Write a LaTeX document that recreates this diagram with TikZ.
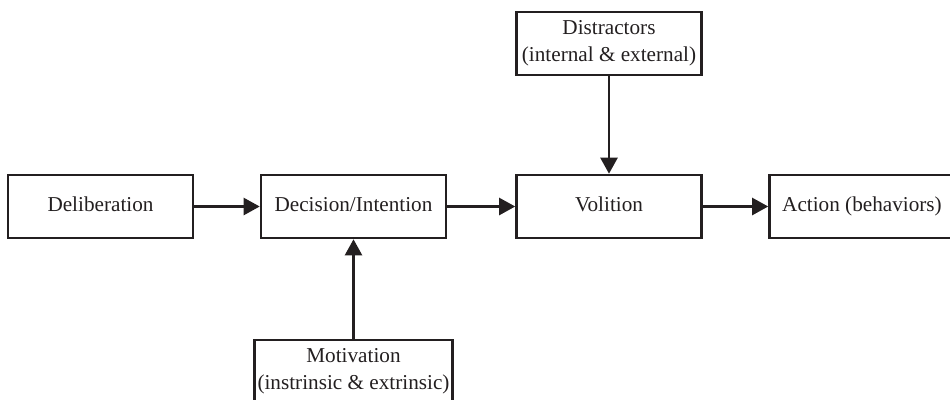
\documentclass[tikz,border=0pt]{standalone}
\usepackage{fontspec}
\setmainfont{Liberation Serif}
\usetikzlibrary{arrows.meta}
\definecolor{ink}{RGB}{35,31,32}
\begin{document}
\begin{tikzpicture}[x=1pt,y=-1pt,
  box/.style={draw=ink, line width=2.6pt, inner sep=0pt, align=center,
    minimum width=185pt, minimum height=63pt, text=ink,
    font=\fontsize{21.2}{27.4}\selectfont},
  oneline/.style={box, text height=15pt, text depth=5pt},
  flow/.style={draw=ink, line width=2.4pt,
    -{Triangle[length=16pt,width=17pt]}}]
\useasboundingbox (0,0) rectangle (950,399);
\clip (0,0) rectangle (950,399);
% main row of stages
\node[oneline] (delib) at (100.5,206.5) {Deliberation};
\node[oneline] (decide) at (353.5,206.5) {Decision/Intention};
\node[oneline] (volit) at (609,206.5) {Volition};
\node[oneline] (act) at (862,206.5) {Action (behaviors)};
% side influences
\node[box] (distr) at (609,43.5) {Distractors\\(internal \& external)};
\node[box, minimum width=198pt] (motiv) at (353.5,371.5) {Motivation\\(instrinsic \& extrinsic)};
% connectors
\draw[flow] (delib) -- (decide);
\draw[flow] (decide) -- (volit);
\draw[flow] (volit) -- (act);
\draw[flow] (distr) -- (volit);
\draw[flow] (motiv) -- (decide);
\end{tikzpicture}
\end{document}
